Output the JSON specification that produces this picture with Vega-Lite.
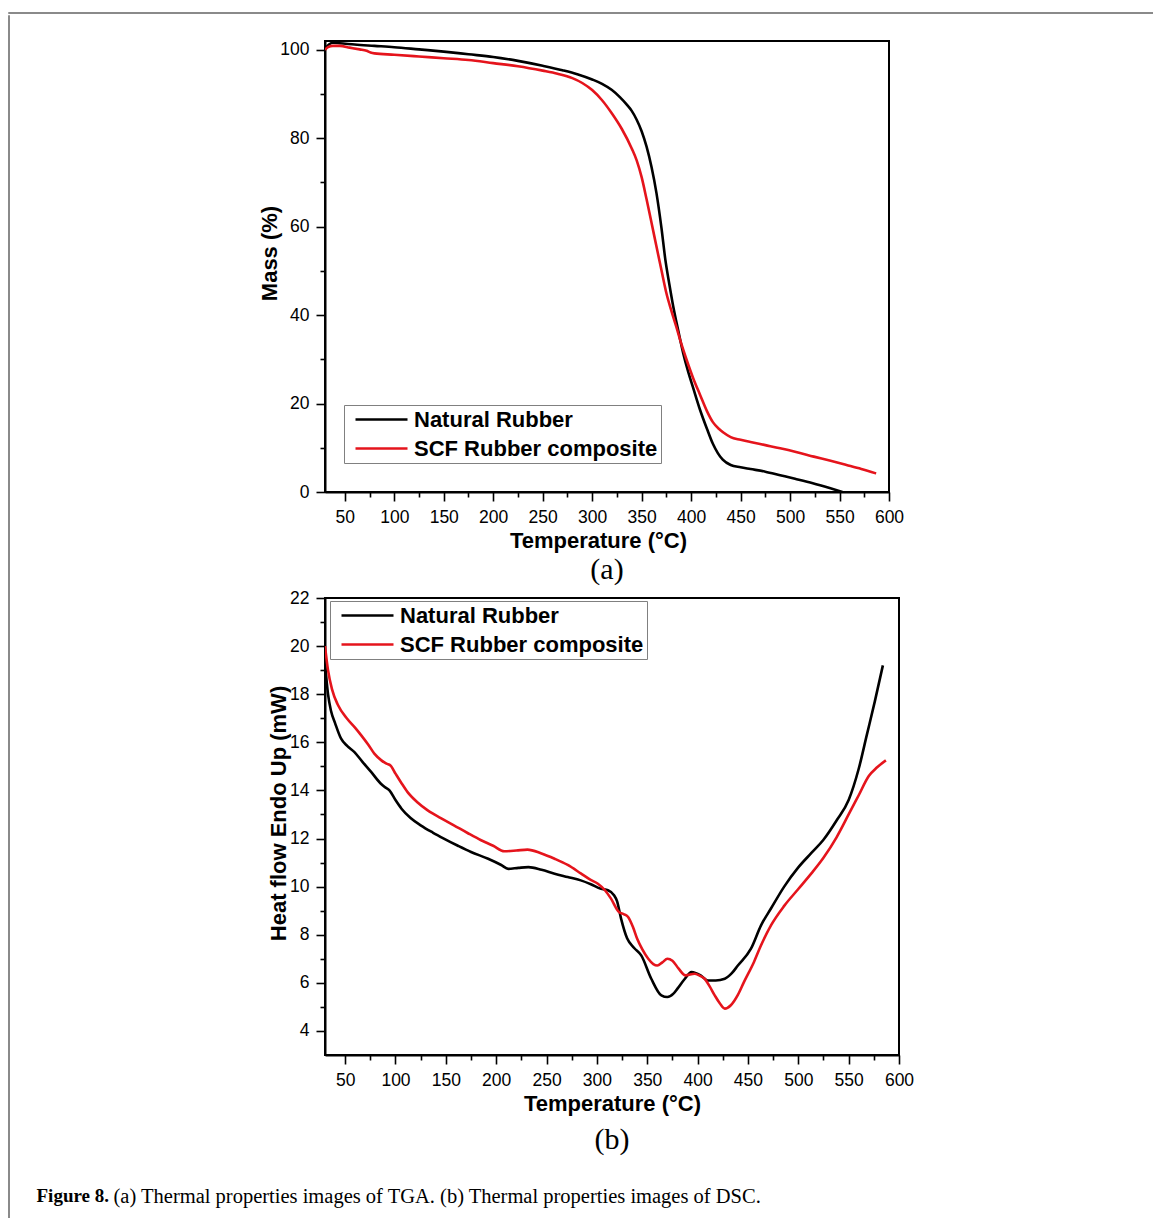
{
  "$schema": "https://vega.github.io/schema/vega-lite/v6.json",
  "background": "white",
  "padding": {"left": 7, "top": 11, "right": 0, "bottom": 0},
  "config": {
    "view": {"stroke": "black", "strokeWidth": 2},
    "axis": {
      "domainColor": "black", "domainWidth": 2, "tickColor": "black", "tickWidth": 1.6,
      "labelFont": "Liberation Sans", "labelFontSize": 17.5, "labelColor": "black",
      "titleFont": "Liberation Sans", "titleFontSize": 22, "titleFontWeight": "bold", "titleColor": "black",
      "grid": false
    },
    "legend": {
      "title": null, "strokeColor": "#808080", "fillColor": "white", "padding": 3,
      "labelFont": "Liberation Sans", "labelFontSize": 22, "labelFontWeight": "bold", "labelColor": "black",
      "labelLimit": 400, "symbolType": "M-2.6,0H2.6", "symbolSize": 400, "symbolStrokeWidth": 2.5,
      "symbolOffset": 23, "labelOffset": 21, "rowPadding": 6
    }
  },
  "title": {
    "text": "Figure 8.", "orient": "bottom", "anchor": "start", "frame": "bounds",
    "font": "Liberation Serif", "fontSize": 19, "fontWeight": "bold", "color": "black",
    "offset": -59, "dx": 29
  },
  "datasets": {
    "tga": [
      {"sample": "Natural Rubber", "temp": 30, "mass": 100.2},
      {"sample": "Natural Rubber", "temp": 34, "mass": 101.2},
      {"sample": "Natural Rubber", "temp": 38, "mass": 101.6},
      {"sample": "Natural Rubber", "temp": 45, "mass": 101.5},
      {"sample": "Natural Rubber", "temp": 60, "mass": 101.2},
      {"sample": "Natural Rubber", "temp": 80, "mass": 100.9},
      {"sample": "Natural Rubber", "temp": 100, "mass": 100.6},
      {"sample": "Natural Rubber", "temp": 125, "mass": 100.1},
      {"sample": "Natural Rubber", "temp": 150, "mass": 99.6},
      {"sample": "Natural Rubber", "temp": 175, "mass": 99.0},
      {"sample": "Natural Rubber", "temp": 200, "mass": 98.4},
      {"sample": "Natural Rubber", "temp": 225, "mass": 97.5},
      {"sample": "Natural Rubber", "temp": 250, "mass": 96.4},
      {"sample": "Natural Rubber", "temp": 270, "mass": 95.4},
      {"sample": "Natural Rubber", "temp": 285, "mass": 94.5},
      {"sample": "Natural Rubber", "temp": 300, "mass": 93.3},
      {"sample": "Natural Rubber", "temp": 310, "mass": 92.3},
      {"sample": "Natural Rubber", "temp": 320, "mass": 90.9},
      {"sample": "Natural Rubber", "temp": 328, "mass": 89.3},
      {"sample": "Natural Rubber", "temp": 335, "mass": 87.6},
      {"sample": "Natural Rubber", "temp": 340, "mass": 86.2},
      {"sample": "Natural Rubber", "temp": 345, "mass": 84.2},
      {"sample": "Natural Rubber", "temp": 350, "mass": 81.6},
      {"sample": "Natural Rubber", "temp": 355, "mass": 78.1},
      {"sample": "Natural Rubber", "temp": 360, "mass": 73.5},
      {"sample": "Natural Rubber", "temp": 365, "mass": 67.6},
      {"sample": "Natural Rubber", "temp": 370, "mass": 59.8},
      {"sample": "Natural Rubber", "temp": 374, "mass": 52.5},
      {"sample": "Natural Rubber", "temp": 378, "mass": 47.0},
      {"sample": "Natural Rubber", "temp": 382, "mass": 41.9},
      {"sample": "Natural Rubber", "temp": 387, "mass": 36.5},
      {"sample": "Natural Rubber", "temp": 392, "mass": 31.4},
      {"sample": "Natural Rubber", "temp": 397, "mass": 27.2},
      {"sample": "Natural Rubber", "temp": 402, "mass": 23.6},
      {"sample": "Natural Rubber", "temp": 409, "mass": 18.6},
      {"sample": "Natural Rubber", "temp": 416, "mass": 14.3},
      {"sample": "Natural Rubber", "temp": 422, "mass": 10.9},
      {"sample": "Natural Rubber", "temp": 427, "mass": 8.8},
      {"sample": "Natural Rubber", "temp": 432, "mass": 7.3},
      {"sample": "Natural Rubber", "temp": 440, "mass": 6.1},
      {"sample": "Natural Rubber", "temp": 450, "mass": 5.6},
      {"sample": "Natural Rubber", "temp": 460, "mass": 5.2},
      {"sample": "Natural Rubber", "temp": 475, "mass": 4.6},
      {"sample": "Natural Rubber", "temp": 490, "mass": 3.8},
      {"sample": "Natural Rubber", "temp": 505, "mass": 3.0},
      {"sample": "Natural Rubber", "temp": 523, "mass": 2.0},
      {"sample": "Natural Rubber", "temp": 540, "mass": 0.9},
      {"sample": "Natural Rubber", "temp": 553, "mass": 0.0},
      {"sample": "SCF Rubber composite", "temp": 30, "mass": 100.0},
      {"sample": "SCF Rubber composite", "temp": 33, "mass": 100.6},
      {"sample": "SCF Rubber composite", "temp": 38, "mass": 100.9},
      {"sample": "SCF Rubber composite", "temp": 45, "mass": 100.9},
      {"sample": "SCF Rubber composite", "temp": 55, "mass": 100.5},
      {"sample": "SCF Rubber composite", "temp": 65, "mass": 100.1},
      {"sample": "SCF Rubber composite", "temp": 72, "mass": 99.8},
      {"sample": "SCF Rubber composite", "temp": 76, "mass": 99.4},
      {"sample": "SCF Rubber composite", "temp": 80, "mass": 99.2},
      {"sample": "SCF Rubber composite", "temp": 100, "mass": 98.9},
      {"sample": "SCF Rubber composite", "temp": 125, "mass": 98.5},
      {"sample": "SCF Rubber composite", "temp": 150, "mass": 98.1},
      {"sample": "SCF Rubber composite", "temp": 175, "mass": 97.7},
      {"sample": "SCF Rubber composite", "temp": 200, "mass": 97.0},
      {"sample": "SCF Rubber composite", "temp": 225, "mass": 96.3},
      {"sample": "SCF Rubber composite", "temp": 250, "mass": 95.3},
      {"sample": "SCF Rubber composite", "temp": 265, "mass": 94.6},
      {"sample": "SCF Rubber composite", "temp": 280, "mass": 93.6},
      {"sample": "SCF Rubber composite", "temp": 290, "mass": 92.5},
      {"sample": "SCF Rubber composite", "temp": 300, "mass": 90.9},
      {"sample": "SCF Rubber composite", "temp": 310, "mass": 88.6},
      {"sample": "SCF Rubber composite", "temp": 320, "mass": 85.6},
      {"sample": "SCF Rubber composite", "temp": 330, "mass": 82.1},
      {"sample": "SCF Rubber composite", "temp": 340, "mass": 77.7},
      {"sample": "SCF Rubber composite", "temp": 345, "mass": 75.0},
      {"sample": "SCF Rubber composite", "temp": 350, "mass": 71.2},
      {"sample": "SCF Rubber composite", "temp": 355, "mass": 66.2},
      {"sample": "SCF Rubber composite", "temp": 360, "mass": 60.9},
      {"sample": "SCF Rubber composite", "temp": 365, "mass": 55.5},
      {"sample": "SCF Rubber composite", "temp": 370, "mass": 50.2},
      {"sample": "SCF Rubber composite", "temp": 375, "mass": 45.0},
      {"sample": "SCF Rubber composite", "temp": 380, "mass": 41.0},
      {"sample": "SCF Rubber composite", "temp": 385, "mass": 37.4},
      {"sample": "SCF Rubber composite", "temp": 390, "mass": 33.6},
      {"sample": "SCF Rubber composite", "temp": 395, "mass": 30.2},
      {"sample": "SCF Rubber composite", "temp": 402, "mass": 25.8},
      {"sample": "SCF Rubber composite", "temp": 409, "mass": 22.0},
      {"sample": "SCF Rubber composite", "temp": 416, "mass": 18.3},
      {"sample": "SCF Rubber composite", "temp": 422, "mass": 15.8},
      {"sample": "SCF Rubber composite", "temp": 428, "mass": 14.3},
      {"sample": "SCF Rubber composite", "temp": 433, "mass": 13.4},
      {"sample": "SCF Rubber composite", "temp": 440, "mass": 12.4},
      {"sample": "SCF Rubber composite", "temp": 450, "mass": 11.8},
      {"sample": "SCF Rubber composite", "temp": 460, "mass": 11.3},
      {"sample": "SCF Rubber composite", "temp": 475, "mass": 10.6},
      {"sample": "SCF Rubber composite", "temp": 490, "mass": 9.9},
      {"sample": "SCF Rubber composite", "temp": 507, "mass": 9.0},
      {"sample": "SCF Rubber composite", "temp": 524, "mass": 8.0},
      {"sample": "SCF Rubber composite", "temp": 540, "mass": 7.1},
      {"sample": "SCF Rubber composite", "temp": 557, "mass": 6.1},
      {"sample": "SCF Rubber composite", "temp": 572, "mass": 5.2},
      {"sample": "SCF Rubber composite", "temp": 587, "mass": 4.2}
    ],
    "dsc": [
      {"sample": "Natural Rubber", "temp": 30, "heat": 19.3},
      {"sample": "Natural Rubber", "temp": 33, "heat": 18.0},
      {"sample": "Natural Rubber", "temp": 36, "heat": 17.3},
      {"sample": "Natural Rubber", "temp": 40, "heat": 16.8},
      {"sample": "Natural Rubber", "temp": 46, "heat": 16.15},
      {"sample": "Natural Rubber", "temp": 52, "heat": 15.85},
      {"sample": "Natural Rubber", "temp": 59, "heat": 15.6},
      {"sample": "Natural Rubber", "temp": 67, "heat": 15.2},
      {"sample": "Natural Rubber", "temp": 76, "heat": 14.76},
      {"sample": "Natural Rubber", "temp": 85, "heat": 14.3},
      {"sample": "Natural Rubber", "temp": 89, "heat": 14.15},
      {"sample": "Natural Rubber", "temp": 94, "heat": 14.0},
      {"sample": "Natural Rubber", "temp": 100, "heat": 13.6},
      {"sample": "Natural Rubber", "temp": 106, "heat": 13.24},
      {"sample": "Natural Rubber", "temp": 115, "heat": 12.85},
      {"sample": "Natural Rubber", "temp": 125, "heat": 12.55},
      {"sample": "Natural Rubber", "temp": 137, "heat": 12.25},
      {"sample": "Natural Rubber", "temp": 148, "heat": 12.0},
      {"sample": "Natural Rubber", "temp": 162, "heat": 11.7},
      {"sample": "Natural Rubber", "temp": 175, "heat": 11.44},
      {"sample": "Natural Rubber", "temp": 192, "heat": 11.16},
      {"sample": "Natural Rubber", "temp": 205, "heat": 10.9},
      {"sample": "Natural Rubber", "temp": 212, "heat": 10.74},
      {"sample": "Natural Rubber", "temp": 222, "heat": 10.78},
      {"sample": "Natural Rubber", "temp": 232, "heat": 10.81},
      {"sample": "Natural Rubber", "temp": 245, "heat": 10.7},
      {"sample": "Natural Rubber", "temp": 258, "heat": 10.54},
      {"sample": "Natural Rubber", "temp": 271, "heat": 10.4},
      {"sample": "Natural Rubber", "temp": 284, "heat": 10.26},
      {"sample": "Natural Rubber", "temp": 294, "heat": 10.1},
      {"sample": "Natural Rubber", "temp": 304, "heat": 9.91},
      {"sample": "Natural Rubber", "temp": 311, "heat": 9.85},
      {"sample": "Natural Rubber", "temp": 317, "heat": 9.64},
      {"sample": "Natural Rubber", "temp": 320, "heat": 9.4},
      {"sample": "Natural Rubber", "temp": 324, "heat": 8.67},
      {"sample": "Natural Rubber", "temp": 330, "heat": 7.85},
      {"sample": "Natural Rubber", "temp": 337, "heat": 7.45},
      {"sample": "Natural Rubber", "temp": 344, "heat": 7.14},
      {"sample": "Natural Rubber", "temp": 354, "heat": 6.17},
      {"sample": "Natural Rubber", "temp": 364, "heat": 5.48},
      {"sample": "Natural Rubber", "temp": 370, "heat": 5.41},
      {"sample": "Natural Rubber", "temp": 376, "heat": 5.55},
      {"sample": "Natural Rubber", "temp": 380, "heat": 5.76},
      {"sample": "Natural Rubber", "temp": 387, "heat": 6.15},
      {"sample": "Natural Rubber", "temp": 394, "heat": 6.45},
      {"sample": "Natural Rubber", "temp": 403, "heat": 6.31},
      {"sample": "Natural Rubber", "temp": 410, "heat": 6.1},
      {"sample": "Natural Rubber", "temp": 418, "heat": 6.1},
      {"sample": "Natural Rubber", "temp": 427, "heat": 6.17},
      {"sample": "Natural Rubber", "temp": 434, "heat": 6.4},
      {"sample": "Natural Rubber", "temp": 440, "heat": 6.72},
      {"sample": "Natural Rubber", "temp": 453, "heat": 7.42},
      {"sample": "Natural Rubber", "temp": 463, "heat": 8.39},
      {"sample": "Natural Rubber", "temp": 473, "heat": 9.1},
      {"sample": "Natural Rubber", "temp": 486, "heat": 10.0},
      {"sample": "Natural Rubber", "temp": 500, "heat": 10.8},
      {"sample": "Natural Rubber", "temp": 513, "heat": 11.4},
      {"sample": "Natural Rubber", "temp": 525, "heat": 11.95},
      {"sample": "Natural Rubber", "temp": 538, "heat": 12.75},
      {"sample": "Natural Rubber", "temp": 550, "heat": 13.6},
      {"sample": "Natural Rubber", "temp": 560, "heat": 14.9},
      {"sample": "Natural Rubber", "temp": 568, "heat": 16.3},
      {"sample": "Natural Rubber", "temp": 576, "heat": 17.7},
      {"sample": "Natural Rubber", "temp": 584, "heat": 19.2},
      {"sample": "SCF Rubber composite", "temp": 30, "heat": 20.0},
      {"sample": "SCF Rubber composite", "temp": 33, "heat": 19.0},
      {"sample": "SCF Rubber composite", "temp": 37, "heat": 18.2},
      {"sample": "SCF Rubber composite", "temp": 43, "heat": 17.54},
      {"sample": "SCF Rubber composite", "temp": 52, "heat": 16.98},
      {"sample": "SCF Rubber composite", "temp": 60, "heat": 16.6},
      {"sample": "SCF Rubber composite", "temp": 66, "heat": 16.29},
      {"sample": "SCF Rubber composite", "temp": 73, "heat": 15.9},
      {"sample": "SCF Rubber composite", "temp": 79, "heat": 15.53},
      {"sample": "SCF Rubber composite", "temp": 86, "heat": 15.25},
      {"sample": "SCF Rubber composite", "temp": 91, "heat": 15.11},
      {"sample": "SCF Rubber composite", "temp": 95, "heat": 15.04},
      {"sample": "SCF Rubber composite", "temp": 100, "heat": 14.7},
      {"sample": "SCF Rubber composite", "temp": 106, "heat": 14.3},
      {"sample": "SCF Rubber composite", "temp": 112, "heat": 13.93},
      {"sample": "SCF Rubber composite", "temp": 122, "heat": 13.5},
      {"sample": "SCF Rubber composite", "temp": 132, "heat": 13.17},
      {"sample": "SCF Rubber composite", "temp": 145, "heat": 12.85},
      {"sample": "SCF Rubber composite", "temp": 158, "heat": 12.55},
      {"sample": "SCF Rubber composite", "temp": 172, "heat": 12.22},
      {"sample": "SCF Rubber composite", "temp": 185, "heat": 11.93},
      {"sample": "SCF Rubber composite", "temp": 197, "heat": 11.7},
      {"sample": "SCF Rubber composite", "temp": 208, "heat": 11.47},
      {"sample": "SCF Rubber composite", "temp": 220, "heat": 11.5},
      {"sample": "SCF Rubber composite", "temp": 231, "heat": 11.54},
      {"sample": "SCF Rubber composite", "temp": 245, "heat": 11.38},
      {"sample": "SCF Rubber composite", "temp": 258, "heat": 11.16},
      {"sample": "SCF Rubber composite", "temp": 271, "heat": 10.9},
      {"sample": "SCF Rubber composite", "temp": 284, "heat": 10.55},
      {"sample": "SCF Rubber composite", "temp": 293, "heat": 10.3},
      {"sample": "SCF Rubber composite", "temp": 301, "heat": 10.12},
      {"sample": "SCF Rubber composite", "temp": 308, "heat": 9.85},
      {"sample": "SCF Rubber composite", "temp": 314, "heat": 9.5},
      {"sample": "SCF Rubber composite", "temp": 322, "heat": 8.94},
      {"sample": "SCF Rubber composite", "temp": 327, "heat": 8.85},
      {"sample": "SCF Rubber composite", "temp": 331, "heat": 8.74},
      {"sample": "SCF Rubber composite", "temp": 336, "heat": 8.3},
      {"sample": "SCF Rubber composite", "temp": 340, "heat": 7.83},
      {"sample": "SCF Rubber composite", "temp": 345, "heat": 7.4},
      {"sample": "SCF Rubber composite", "temp": 351, "heat": 7.0},
      {"sample": "SCF Rubber composite", "temp": 356, "heat": 6.78},
      {"sample": "SCF Rubber composite", "temp": 360, "heat": 6.72},
      {"sample": "SCF Rubber composite", "temp": 365, "heat": 6.85},
      {"sample": "SCF Rubber composite", "temp": 370, "heat": 7.0},
      {"sample": "SCF Rubber composite", "temp": 375, "heat": 6.92},
      {"sample": "SCF Rubber composite", "temp": 381, "heat": 6.6},
      {"sample": "SCF Rubber composite", "temp": 388, "heat": 6.31},
      {"sample": "SCF Rubber composite", "temp": 397, "heat": 6.38},
      {"sample": "SCF Rubber composite", "temp": 402, "heat": 6.3},
      {"sample": "SCF Rubber composite", "temp": 407, "heat": 6.17},
      {"sample": "SCF Rubber composite", "temp": 412, "heat": 5.85},
      {"sample": "SCF Rubber composite", "temp": 417, "heat": 5.48},
      {"sample": "SCF Rubber composite", "temp": 422, "heat": 5.15},
      {"sample": "SCF Rubber composite", "temp": 427, "heat": 4.93},
      {"sample": "SCF Rubber composite", "temp": 433, "heat": 5.07},
      {"sample": "SCF Rubber composite", "temp": 440, "heat": 5.5},
      {"sample": "SCF Rubber composite", "temp": 446, "heat": 6.03},
      {"sample": "SCF Rubber composite", "temp": 456, "heat": 6.87},
      {"sample": "SCF Rubber composite", "temp": 463, "heat": 7.56},
      {"sample": "SCF Rubber composite", "temp": 473, "heat": 8.4},
      {"sample": "SCF Rubber composite", "temp": 486, "heat": 9.2},
      {"sample": "SCF Rubber composite", "temp": 500, "heat": 9.9},
      {"sample": "SCF Rubber composite", "temp": 513, "heat": 10.55},
      {"sample": "SCF Rubber composite", "temp": 525, "heat": 11.2},
      {"sample": "SCF Rubber composite", "temp": 538, "heat": 12.05},
      {"sample": "SCF Rubber composite", "temp": 550, "heat": 13.0},
      {"sample": "SCF Rubber composite", "temp": 560, "heat": 13.8},
      {"sample": "SCF Rubber composite", "temp": 570, "heat": 14.6},
      {"sample": "SCF Rubber composite", "temp": 578, "heat": 14.95},
      {"sample": "SCF Rubber composite", "temp": 587, "heat": 15.25}
    ]
  },
  "spacing": 0,
  "vconcat": [
    {
      "width": 1160,
      "height": 1,
      "view": {"stroke": "#8a8a8a", "strokeWidth": 1, "fill": null},
      "data": {"values": []},
      "mark": "point"
    },
    {
      "spacing": 247,
      "title": {
        "text": "(a) Thermal properties images of TGA. (b) Thermal properties images of DSC.",
        "orient": "bottom", "anchor": "start", "frame": "bounds",
        "font": "Liberation Serif", "fontSize": 20.5, "fontWeight": "normal", "color": "black",
        "offset": -59, "dx": 106
      },
      "hconcat": [
        {
          "width": 1,
          "height": 1230,
          "view": {"stroke": "#8a8a8a", "strokeWidth": 1, "fill": null},
          "data": {"values": []},
          "mark": "point"
        },
        {
          "spacing": 2,
          "resolve": {"scale": {"color": "independent"}, "legend": {"color": "independent"}},
          "vconcat": [
            {
              "width": 1,
              "height": 22,
              "view": {"stroke": null},
              "data": {"values": []},
              "mark": "point"
            },
            {
              "width": 564,
              "height": 451,
              "title": {
                "text": "(a)", "orient": "bottom", "anchor": "middle", "frame": "group",
                "font": "Liberation Serif", "fontSize": 30, "fontWeight": "normal", "color": "black", "offset": 3
              },
              "data": {"name": "tga"},
              "mark": {"type": "line", "interpolate": "monotone", "strokeWidth": 2.6, "clip": true},
              "encoding": {
                "x": {
                  "field": "temp", "type": "quantitative",
                  "scale": {"domain": [30, 600], "nice": false, "zero": false},
                  "axis": {
                    "title": "Temperature (°C)", "titleX": 273,
                    "values": [50, 75, 100, 125, 150, 175, 200, 225, 250, 275, 300, 325, 350, 375, 400, 425, 450, 475, 500, 525, 550, 575, 600],
                    "labelExpr": "datum.value % 50 === 0 ? datum.label : ''",
                    "tickSize": {"condition": {"test": "datum.value % 50 === 0", "value": 9}, "value": 5},
                    "labelPadding": 7, "titlePadding": 5, "labelFlush": false
                  }
                },
                "y": {
                  "field": "mass", "type": "quantitative",
                  "scale": {"domain": [0, 102], "nice": false},
                  "axis": {
                    "title": "Mass (%)", "titleY": 212,
                    "values": [0, 10, 20, 30, 40, 50, 60, 70, 80, 90, 100],
                    "labelExpr": "datum.value % 20 === 0 ? datum.label : ''",
                    "tickSize": {"condition": {"test": "datum.value % 20 === 0", "value": 9}, "value": 5},
                    "labelPadding": 7, "titlePadding": -2
                  }
                },
                "color": {
                  "field": "sample", "type": "nominal",
                  "scale": {"domain": ["Natural Rubber", "SCF Rubber composite"], "range": ["#000000", "#e5141c"]},
                  "legend": {"orient": "none", "legendX": 19, "legendY": 364}
                }
              }
            },
            {
              "width": 574,
              "height": 457,
              "title": {
                "text": "(b)", "orient": "bottom", "anchor": "middle", "frame": "group",
                "font": "Liberation Serif", "fontSize": 30, "fontWeight": "normal", "color": "black", "offset": 10
              },
              "data": {"name": "dsc"},
              "mark": {"type": "line", "interpolate": "monotone", "strokeWidth": 2.6, "clip": true},
              "encoding": {
                "x": {
                  "field": "temp", "type": "quantitative",
                  "scale": {"domain": [30, 600], "nice": false, "zero": false},
                  "axis": {
                    "title": "Temperature (°C)",
                    "values": [50, 75, 100, 125, 150, 175, 200, 225, 250, 275, 300, 325, 350, 375, 400, 425, 450, 475, 500, 525, 550, 575, 600],
                    "labelExpr": "datum.value % 50 === 0 ? datum.label : ''",
                    "tickSize": {"condition": {"test": "datum.value % 50 === 0", "value": 9}, "value": 5},
                    "labelPadding": 7, "titlePadding": 5, "labelFlush": false
                  }
                },
                "y": {
                  "field": "heat", "type": "quantitative",
                  "scale": {"domain": [3, 22], "nice": false, "zero": false},
                  "axis": {
                    "title": "Heat flow Endo Up (mW)", "titleY": 215,
                    "values": [4, 5, 6, 7, 8, 9, 10, 11, 12, 13, 14, 15, 16, 17, 18, 19, 20, 21, 22],
                    "labelExpr": "datum.value % 2 === 0 ? datum.label : ''",
                    "tickSize": {"condition": {"test": "datum.value % 2 === 0", "value": 9}, "value": 5},
                    "labelPadding": 7, "titlePadding": -1
                  }
                },
                "color": {
                  "field": "sample", "type": "nominal",
                  "scale": {"domain": ["Natural Rubber", "SCF Rubber composite"], "range": ["#000000", "#e5141c"]},
                  "legend": {"orient": "none", "legendX": 5, "legendY": 3}
                }
              }
            }
          ]
        }
      ]
    }
  ]
}
